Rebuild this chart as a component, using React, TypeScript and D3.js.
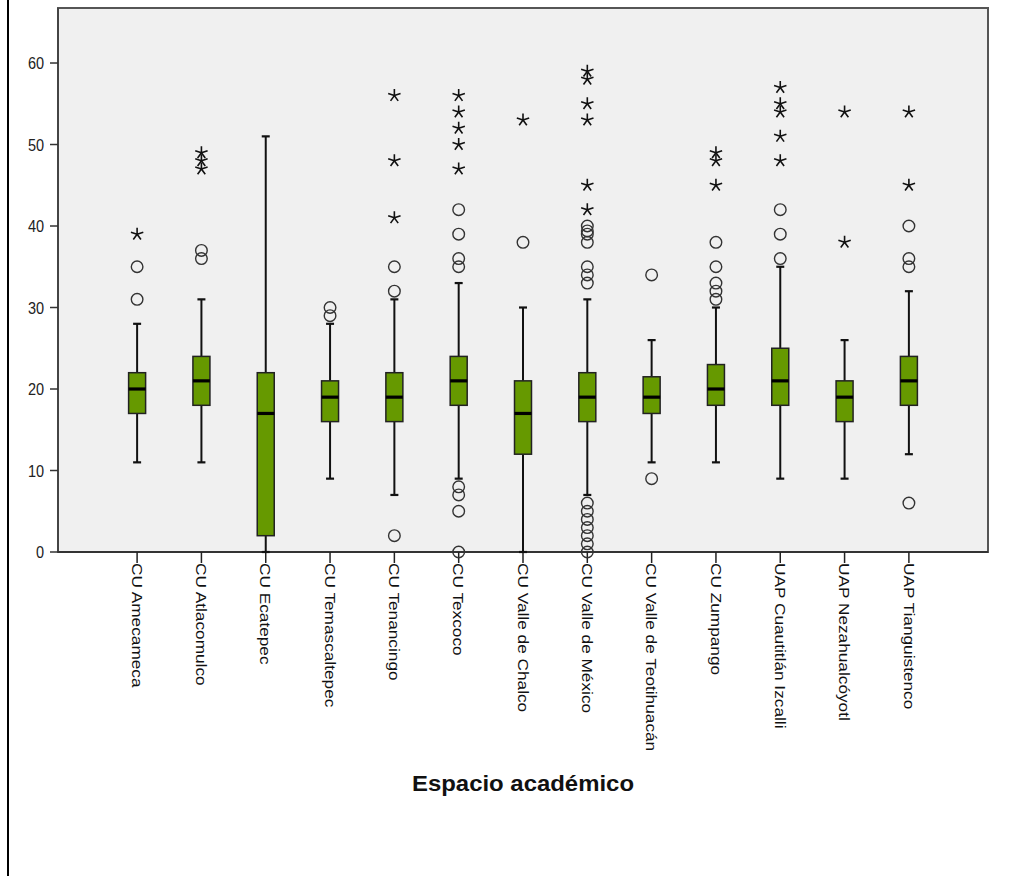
import React from "react";
import * as d3 from "d3";

const categories = [
  "CU Amecameca",
  "CU Atlacomulco",
  "CU Ecatepec",
  "CU Temascaltepec",
  "CU Tenancingo",
  "CU Texcoco",
  "CU Valle de Chalco",
  "CU Valle de México",
  "CU Valle de Teotihuacán",
  "CU Zumpango",
  "UAP Cuautitlán Izcalli",
  "UAP Nezahualcóyotl",
  "UAP Tianguistenco",
];

const whiskerLow = [11, 11, 0, 9, 7, 9, 0, 7, 11, 11, 9, 9, 12];
const q1 = [17, 18, 2, 16, 16, 18, 12, 16, 17, 18, 18, 16, 18];
const median = [20, 21, 17, 19, 19, 21, 17, 19, 19, 20, 21, 19, 21];
const q3 = [22, 24, 22, 21, 22, 24, 21, 22, 21.5, 23, 25, 21, 24];
const whiskerHigh = [28, 31, 51, 28, 31, 33, 30, 31, 26, 30, 35, 26, 32];

const outliers: number[][] = [
  [31, 35],
  [36, 37],
  [],
  [29, 30],
  [2, 32, 35],
  [0, 5, 7, 8, 35, 36, 39, 42],
  [38],
  [0, 1, 2, 3, 4, 5, 6, 33, 34, 35, 38, 39, 39.4, 40],
  [9, 34],
  [31, 32, 33, 35, 38],
  [36, 39, 42],
  [],
  [6, 35, 36, 40],
];

const extremes: number[][] = [
  [39],
  [47, 48, 49],
  [],
  [],
  [41, 48, 56],
  [47, 50, 52, 54, 56],
  [53],
  [42, 45, 53, 55, 58, 59],
  [],
  [45, 48, 49],
  [48, 51, 54, 55, 57],
  [38, 54],
  [45, 54],
];

const yTicks = [0, 10, 20, 30, 40, 50, 60];

const W = 1024;
const H = 876;
const plot = { left: 58, top: 8, right: 988, bottom: 552 };
const font = "'Liberation Sans', Arial, sans-serif";
const boxColor = "#669900";

function Star({ cx, cy }: { cx: number; cy: number }) {
  const r = 6.5;
  const arms = d3.range(5).map((k) => {
    const a = (-90 + k * 72) * (Math.PI / 180);
    return `M${cx},${cy}L${cx + r * Math.cos(a)},${cy + r * Math.sin(a)}`;
  });
  return <path d={arms.join("")} stroke="#111" strokeWidth={1.6} fill="none" />;
}

export default function App() {
  const y = d3.scaleLinear().domain([0, 66.75]).range([plot.bottom, plot.top]);
  const x = d3
    .scalePoint<string>()
    .domain(categories)
    .range([plot.left, plot.right])
    .padding(1.23);
  const boxW = 17;
  const capW = 8;

  return (
    <svg
      width={W}
      height={H}
      style={{ position: "absolute", left: 0, top: 0, background: "#fff" }}
    >
      <line x1={8} x2={8} y1={0} y2={H} stroke="#000" strokeWidth={2} />
      <rect
        x={plot.left}
        y={plot.top}
        width={plot.right - plot.left}
        height={plot.bottom - plot.top}
        fill="#f0f0f0"
        stroke="#555"
        strokeWidth={2}
      />
      {/* Y axis */}
      <line x1={plot.left} x2={plot.left} y1={plot.top} y2={plot.bottom} stroke="#444" strokeWidth={2} />
      {yTicks.map((t) => (
        <g key={t}>
          <line x1={plot.left - 8} x2={plot.left} y1={y(t)} y2={y(t)} stroke="#333" strokeWidth={1.5} />
          <text
            transform={`translate(${plot.left - 14},${y(t)}) scale(1,1.15)`}
            textAnchor="end"
            dy="0.36em"
            fontFamily={font}
            fontSize={14.5}
            fill="#222"
          >
            {t}
          </text>
        </g>
      ))}
      {/* X axis */}
      <line x1={plot.left} x2={plot.right} y1={plot.bottom} y2={plot.bottom} stroke="#333" strokeWidth={2} />
      {categories.map((c) => (
        <g key={c}>
          <line x1={x(c)!} x2={x(c)!} y1={plot.bottom} y2={plot.bottom + 11} stroke="#222" strokeWidth={1.5} />
          <text
            transform={`translate(${x(c)!},${plot.bottom + 11}) rotate(90) scale(1.15,1)`}
            dy="0.35em"
            fontFamily={font}
            fontSize={15}
            fill="#111"
          >
            {c}
          </text>
        </g>
      ))}
      {/* Boxes */}
      {categories.map((c, i) => {
        const cx = x(c)!;
        return (
          <g key={"b" + c}>
            <line x1={cx} x2={cx} y1={y(whiskerHigh[i])} y2={y(q3[i])} stroke="#111" strokeWidth={2} />
            <line x1={cx} x2={cx} y1={y(q1[i])} y2={y(whiskerLow[i])} stroke="#111" strokeWidth={2} />
            <line x1={cx - capW / 2} x2={cx + capW / 2} y1={y(whiskerHigh[i])} y2={y(whiskerHigh[i])} stroke="#111" strokeWidth={2.2} />
            <line x1={cx - capW / 2} x2={cx + capW / 2} y1={y(whiskerLow[i])} y2={y(whiskerLow[i])} stroke="#111" strokeWidth={2.2} />
            <rect
              x={cx - boxW / 2}
              y={y(q3[i])}
              width={boxW}
              height={y(q1[i]) - y(q3[i])}
              fill={boxColor}
              stroke="#222"
              strokeWidth={1.5}
            />
            <line x1={cx - boxW / 2} x2={cx + boxW / 2} y1={y(median[i])} y2={y(median[i])} stroke="#000" strokeWidth={3.2} />
            {outliers[i].map((v, k) => (
              <circle key={"o" + k} cx={cx} cy={y(v)} r={5.8} fill="none" stroke="#333" strokeWidth={1.4} />
            ))}
            {extremes[i].map((v, k) => (
              <Star key={"s" + k} cx={cx} cy={y(v)} />
            ))}
          </g>
        );
      })}
      <text
        x={523}
        y={791}
        textAnchor="middle"
        fontFamily={font}
        fontWeight="bold"
        fontSize={22}
        textLength={222}
        lengthAdjust="spacingAndGlyphs"
        fill="#111"
      >
        Espacio académico
      </text>
    </svg>
  );
}
